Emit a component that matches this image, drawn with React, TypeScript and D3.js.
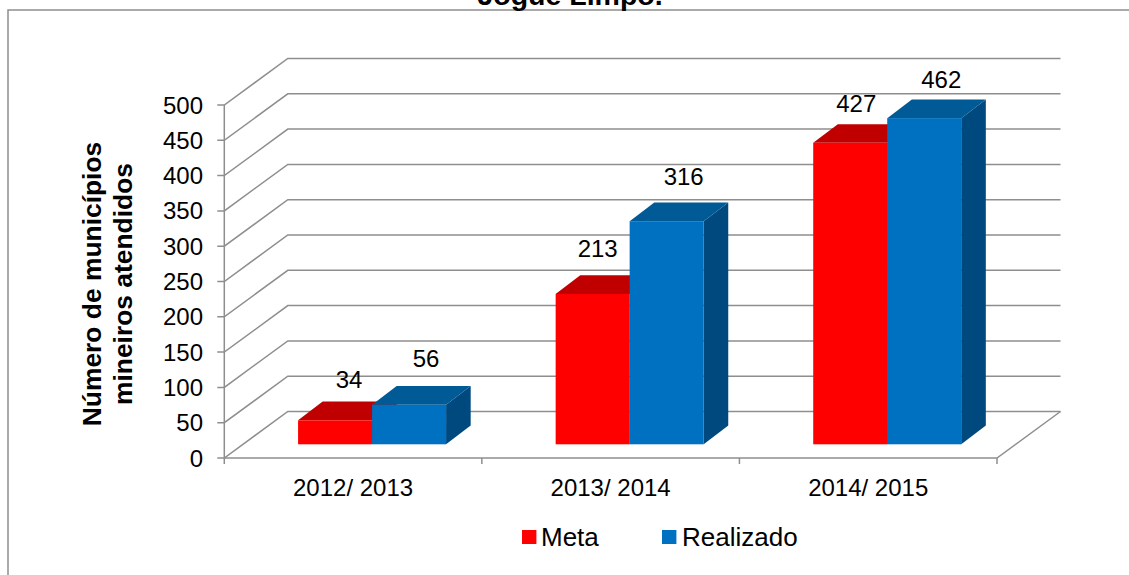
import React from "react";
import * as d3 from "d3";

const categories = ["2012/ 2013", "2013/ 2014", "2014/ 2015"];
const seriesNames = ["Meta", "Realizado"];
const meta = [34, 213, 427];
const realizado = [56, 316, 462];
const yTicks = [0, 50, 100, 150, 200, 250, 300, 350, 400, 450, 500];
const titleText = "Jogue Limpo.";
const yTitleLines = ["Número de municípios", "mineiros atendidos"];

const W = 1129, H = 575;
const FONT = "'Liberation Sans', Arial, sans-serif";
const GRID = "#8e8e8e";
const y = d3.scaleLinear().domain([0, 500]).range([458, 105]);
const xCat = d3.scaleBand<string>().domain(categories).range([224.3, 997]);
const depth = { x: 63.5, y: -46.5 };
const barDepth = { x: 24.6, y: -18.7 };
const barBaseLift = 13.7;
const barW = 74;
const groupShift = 19;
const colors = [
  { front: "#FF0000", top: "#C00000", side: "#A00000" },
  { front: "#0070C0", top: "#005A96", side: "#00497F" },
];
// [dx, dy] of each data label from the centre-top of its bar's front face
const labelNudge = [
  [[14, -32], [5, -37], [6, -31]],
  [[17, -38], [17, -36], [17, -30]],
];

export default function App() {
  const x0 = xCat.range()[0];
  const x1 = xCat.range()[1];
  const y0 = y(0);
  const ln = d3.line<[number, number]>();
  const series = [meta, realizado];

  const bars: React.ReactNode[] = [];
  const labels: React.ReactNode[] = [];
  categories.forEach((c, ci) => {
    const cellC = (xCat(c) as number) + xCat.bandwidth() / 2 + groupShift;
    series.forEach((vals, si) => {
      const v = vals[ci];
      const l = cellC - barW + si * barW;
      const r = l + barW;
      const t = y(v) - barBaseLift;
      const b = y0 - barBaseLift;
      const col = colors[si];
      const d = barDepth;
      bars.push(
        <g key={`${ci}-${si}`}>
          <path d={ln([[r, t], [r + d.x, t + d.y], [r + d.x, b + d.y], [r, b]])! + "Z"} fill={col.side} />
          <path d={ln([[l, t], [l + d.x, t + d.y], [r + d.x, t + d.y], [r, t]])! + "Z"} fill={col.top} />
          <rect x={l} y={t} width={barW} height={b - t} fill={col.front} />
        </g>
      );
      const [dx, dy] = labelNudge[si][ci];
      labels.push(
        <text key={`${ci}-${si}`} x={(l + r) / 2 + dx} y={t + dy} textAnchor="middle" fontSize={24} fill="#000">
          {v}
        </text>
      );
    });
  });

  return (
    <svg width={W} height={H} viewBox={`0 0 ${W} ${H}`} fontFamily={FONT}
      style={{ position: "absolute", left: 0, top: 0, background: "#fff" }}>
      <path d={`M8,${H}V10H${W}`} fill="none" stroke="#8e8e8e" strokeWidth={1.5} />
      <text x={570} y={4.5} textAnchor="middle" fontSize={28.5} fontWeight="bold">{titleText}</text>

      {yTicks.map((t) => (
        <path key={t} d={ln([[x0 - 7, y(t)], [x0, y(t)], [x0 + depth.x, y(t) + depth.y], [x1 + depth.x, y(t) + depth.y]])!}
          fill="none" stroke={GRID} strokeWidth={1.5} />
      ))}
      <path d={ln([[x0, y(500)], [x0, y0 + 6]])!} fill="none" stroke={GRID} strokeWidth={1.5} />
      <path d={ln([[x0, y0], [x1, y0], [x1 + depth.x, y0 + depth.y]])!} fill="none" stroke={GRID} strokeWidth={1.5} />
      {categories.map((c) => {
        const xr = (xCat(c) as number) + xCat.bandwidth();
        return <path key={c} d={ln([[xr, y0], [xr, y0 + 6]])!} stroke={GRID} strokeWidth={1.5} fill="none" />;
      })}

      {yTicks.map((t) => (
        <text key={t} x={203} y={y(t)} dy={8.5} textAnchor="end" fontSize={24} fill="#000">{t}</text>
      ))}
      {categories.map((c) => (
        <text key={c} x={(xCat(c) as number) + xCat.bandwidth() / 2} y={495.5} textAnchor="middle" fontSize={24} fill="#000">{c}</text>
      ))}

      {bars}
      {labels}

      {yTitleLines.map((s, i) => (
        <text key={s} transform={`translate(${100.5 + i * 31},284) rotate(-90)`} textAnchor="middle" fontSize={26.4} fontWeight="bold" fill="#000">{s}</text>
      ))}

      <rect x={522} y={530} width={14.4} height={14} fill={colors[0].front} />
      <text x={541} y={546} fontSize={26}>{seriesNames[0]}</text>
      <rect x={662} y={530} width={14.4} height={14} fill={colors[1].front} />
      <text x={682} y={546} fontSize={26}>{seriesNames[1]}</text>
    </svg>
  );
}
